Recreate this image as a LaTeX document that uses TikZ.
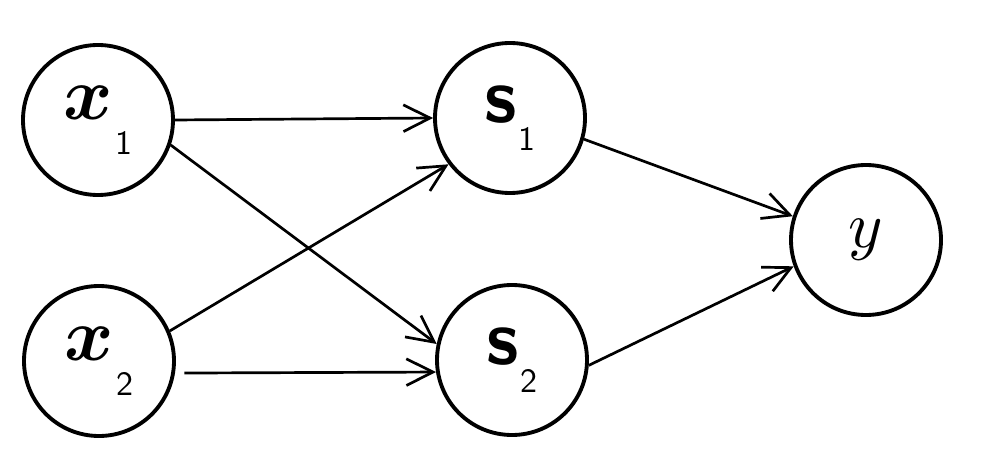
\documentclass[tikz,border=0pt]{standalone}
\usepackage{amsmath,amssymb}
\usepackage{bm}
\usetikzlibrary{arrows.meta}

\newcommand{\xlab}[1]{\scalebox{6.4}{$\bm{x}$}\hspace{3pt}\raisebox{-30pt}{\scalebox{2.9}{\sffamily #1}}}
\newcommand{\slab}[1]{\scalebox{6.6}{\sffamily\bfseries s}\hspace{1pt}\raisebox{-24pt}{\scalebox{2.9}{\sffamily #1}}}

\begin{document}
\begin{tikzpicture}[x=0.03cm,y=0.03cm,
  unit/.style={draw,circle,line width=3.3pt,minimum size=4.5cm,inner sep=0pt},
  link/.style={line width=2.3pt,-{Straight Barb[length=0.8cm,width=0.8cm,line width=2.3pt]}}]
\useasboundingbox (0,0) rectangle (988,472);
\node[unit] (x1) at (98,352) {\xlab{1}};
\node[unit] (x2) at (99,111) {\xlab{2}};
\node[unit] (s1) at (510,354) {\slab{1}};
\node[unit] (s2) at (512,112) {\slab{2}};
\node[unit] (y) at (866,232) {\scalebox{5.6}{$y$}};
%links from the input layer
\draw[link] (x1.east) -- (s1.west);
\draw[link] (x1.-19) -- (s2.168);
\draw[link] (x2.23) -- (s1.217);
\draw[link] ([xshift=8]x2.-9) -- (s2.-171);
%links to the output
\draw[link] (s1.-16) -- (y.162);
\draw[link] (s2.-4) -- (y.200);
\end{tikzpicture}
\end{document}
